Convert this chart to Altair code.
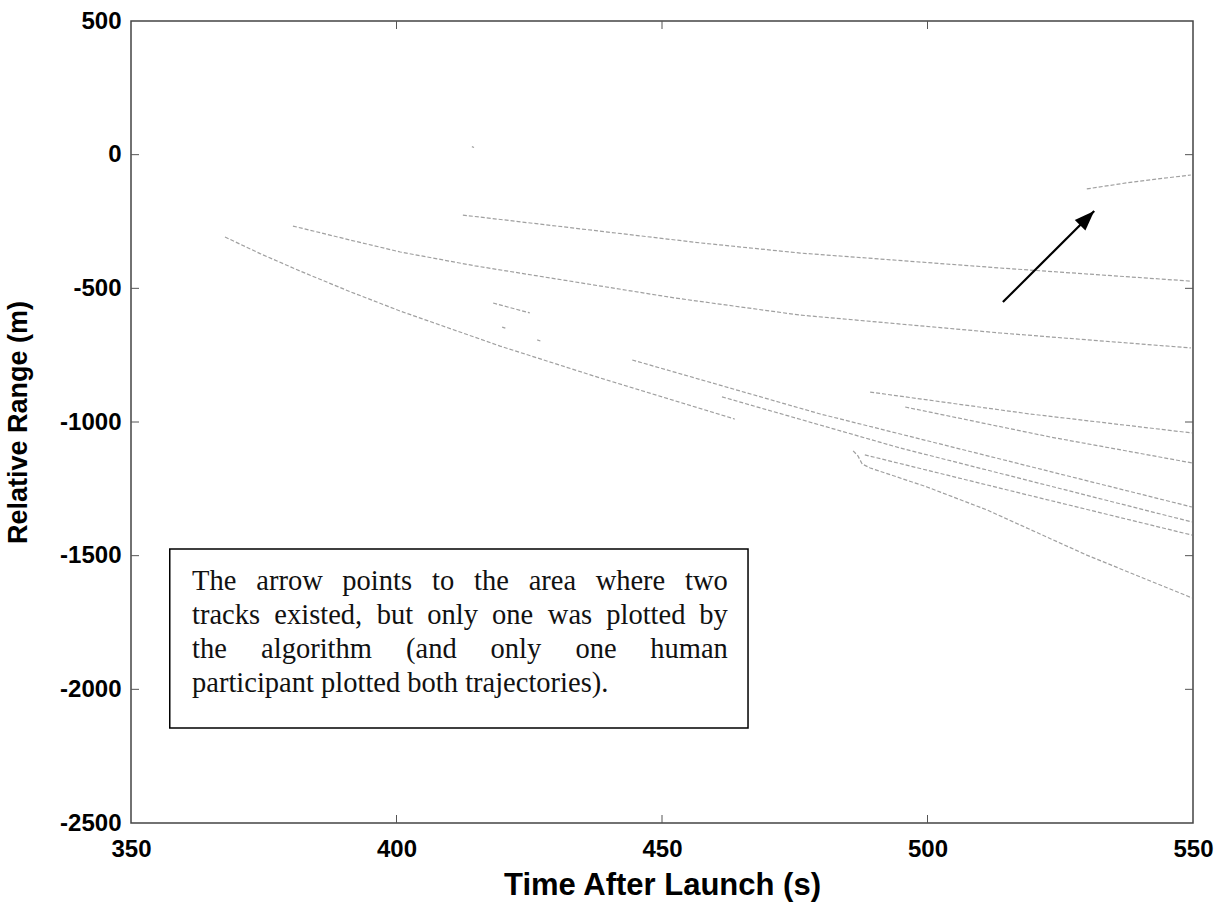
import altair as alt
import pandas as pd

# ---- track data: time after launch (s) and relative range (m) ----
track_a_t = [367.7, 374.3, 381.8, 391.2, 400.7, 419.5, 438.3, 463.7]
track_a_r = [-308, -370, -435, -512, -585, -716, -835, -989]

track_b_t = [380.5, 391.2, 400.7, 414.8, 428.9, 452.4, 476.0, 513.7, 549.6]
track_b_r = [-267, -319, -364, -416, -461, -536, -600, -667, -723]

track_c_t = [412.5, 457.2, 476.0, 513.7, 549.6]
track_c_r = [-226, -330, -368, -424, -473]

track_d_t = [530.0, 538.7, 549.6]
track_d_r = [-128, -102, -76]

frag_1_t = [418.2, 425.1]
frag_1_r = [-555, -592]
frag_2_t = [419.9, 420.5]
frag_2_r = [-645, -649]
frag_3_t = [426.5, 427.1]
frag_3_r = [-693, -697]
frag_4_t = [414.2, 414.6]
frag_4_r = [30, 27]

track_e_t = [489.2, 519.3, 549.8]
track_e_r = [-888, -970, -1041]

track_f_t = [495.8, 523.1, 549.8]
track_f_r = [-944, -1056, -1153]

track_g_t = [444.4, 479.8, 549.8]
track_g_r = [-768, -970, -1318]

track_h_t = [461.3, 494.8, 549.8]
track_h_r = [-906, -1097, -1374]

track_i_t = [488.2, 519.3, 549.8]
track_i_r = [-1123, -1275, -1423]

track_j_t = [486.0, 486.9, 487.7, 489.2, 499.9, 511.2, 530.0, 549.8]
track_j_r = [-1108, -1127, -1157, -1172, -1243, -1329, -1498, -1658]

tracks = {
    "a": (track_a_t, track_a_r), "b": (track_b_t, track_b_r),
    "c": (track_c_t, track_c_r), "d": (track_d_t, track_d_r),
    "f1": (frag_1_t, frag_1_r), "f2": (frag_2_t, frag_2_r),
    "f3": (frag_3_t, frag_3_r), "f4": (frag_4_t, frag_4_r),
    "e": (track_e_t, track_e_r), "f": (track_f_t, track_f_r),
    "g": (track_g_t, track_g_r), "h": (track_h_t, track_h_r),
    "i": (track_i_t, track_i_r), "j": (track_j_t, track_j_r),
}

rows = []
for name, (ts, rs) in tracks.items():
    for k, (t, r) in enumerate(zip(ts, rs)):
        rows.append({"track": name, "seq": k, "t": t, "r": r})
track_df = pd.DataFrame(rows)

# ---- axis ticks ----
x_ticks = [350, 400, 450, 500, 550]
y_ticks = [500, 0, -500, -1000, -1500, -2000, -2500]

# ---- arrow (tail -> tip) ----
arrow_tail = (514.2, -551)
arrow_tip = (531.4, -211)

# ---- annotation box and its justified text (word anchors in data units) ----
box_t = (357.3, 466.2)
box_r = (-1475, -2145)

line_r = [-1628, -1755, -1882, -2009]
left_words = [
    ("The", 361.5, 0), ("arrow", 373.6, 0), ("points", 389.8, 0), ("to", 406.7, 0),
    ("the", 414.6, 0), ("area", 424.9, 0), ("where", 437.5, 0),
    ("tracks", 361.5, 1), ("existed,", 377.0, 1), ("but", 396.3, 1), ("only", 405.8, 1),
    ("one", 418.0, 1), ("was", 428.5, 1), ("plotted", 439.5, 1),
    ("the", 361.5, 2), ("algorithm", 374.5, 2), ("(and", 401.8, 2), ("only", 417.7, 2),
    ("one", 433.7, 2),
    ("participant plotted both trajectories).", 361.5, 3),
]
right_words = [("two", 462.4, 0), ("by", 462.4, 1), ("human", 462.4, 2)]

left_df = pd.DataFrame([{"w": w, "t": x, "r": line_r[i]} for w, x, i in left_words])
right_df = pd.DataFrame([{"w": w, "t": x, "r": line_r[i]} for w, x, i in right_words])

W, H = 1062, 802
xs = alt.Scale(domain=[350, 550], nice=False, zero=False)
ys = alt.Scale(domain=[-2500, 500], nice=False, zero=False)

x_axis = alt.Axis(
    values=x_ticks, format="d", grid=False, domain=False, ticks=False,
    labelFont="Liberation Sans", labelFontWeight="bold", labelFontSize=24,
    labelColor="black", labelPadding=14, labelOverlap=False, labelFlush=False,
    title="Time After Launch (s)", titleFont="Liberation Sans",
    titleFontWeight="bold", titleFontSize=31, titleColor="black",
    titleY=62, titleBaseline="middle",
)
y_axis = alt.Axis(
    values=y_ticks, labelExpr="datum.value + ''", grid=False, domain=False,
    ticks=False, labelFont="Liberation Sans", labelFontWeight="bold",
    labelFontSize=24, labelColor="black", labelPadding=10, labelOverlap=False,
    labelFlush=False, labelBaseline="middle",
    title="Relative Range (m)", titleFont="Liberation Sans",
    titleFontWeight="bold", titleFontSize=27, titleColor="black",
    titleX=-113, titleY=401, titleAngle=270, titleAlign="center",
    titleBaseline="middle",
)

lines = alt.Chart(track_df).mark_line(
    color="#a0a0a0", strokeWidth=1.2, strokeDash=[4, 2]
).encode(
    x=alt.X("t:Q", scale=xs, axis=x_axis),
    y=alt.Y("r:Q", scale=ys, axis=y_axis),
    detail="track:N",
    order="seq:Q",
)

# inward tick marks on all four sides
ytick_df = pd.DataFrame({"r": y_ticks[1:-1]})
xtick_df = pd.DataFrame({"t": x_ticks[1:-1]})
tick_style = dict(color="#555555", strokeWidth=1)
ticks_left = alt.Chart(ytick_df).mark_rule(**tick_style).encode(
    y=alt.Y("r:Q", scale=ys), x=alt.value(0), x2=alt.value(8))
ticks_right = alt.Chart(ytick_df).mark_rule(**tick_style).encode(
    y=alt.Y("r:Q", scale=ys), x=alt.value(W - 8), x2=alt.value(W))
ticks_bottom = alt.Chart(xtick_df).mark_rule(**tick_style).encode(
    x=alt.X("t:Q", scale=xs), y=alt.value(H - 8), y2=alt.value(H))
ticks_top = alt.Chart(xtick_df).mark_rule(**tick_style).encode(
    x=alt.X("t:Q", scale=xs), y=alt.value(0), y2=alt.value(8))

arrow_df = pd.DataFrame([{"t": arrow_tail[0], "r": arrow_tail[1],
                          "t2": arrow_tip[0], "r2": arrow_tip[1]}])
shaft = alt.Chart(arrow_df).mark_rule(color="black", strokeWidth=2.2).encode(
    x=alt.X("t:Q", scale=xs), y=alt.Y("r:Q", scale=ys), x2="t2:Q", y2="r2:Q")
head = alt.Chart(pd.DataFrame([{"t": arrow_tip[0], "r": arrow_tip[1]}])).mark_point(
    shape="M0,0 L-2,-0.75 L-2,0.75 Z", filled=True, color="black", opacity=1,
    size=400, angle=315,
).encode(x=alt.X("t:Q", scale=xs), y=alt.Y("r:Q", scale=ys))

box_df = pd.DataFrame([{"t": box_t[0], "t2": box_t[1], "r": box_r[0], "r2": box_r[1]}])
box = alt.Chart(box_df).mark_rect(fill="white", stroke="black", strokeWidth=1.5).encode(
    x=alt.X("t:Q", scale=xs), x2="t2:Q", y=alt.Y("r:Q", scale=ys), y2="r2:Q")

text_style = dict(font="Liberation Serif", fontSize=28.5, color="#111111",
                  baseline="alphabetic")
words_left = alt.Chart(left_df).mark_text(align="left", **text_style).encode(
    x=alt.X("t:Q", scale=xs), y=alt.Y("r:Q", scale=ys), text="w:N")
words_right = alt.Chart(right_df).mark_text(align="right", **text_style).encode(
    x=alt.X("t:Q", scale=xs), y=alt.Y("r:Q", scale=ys), text="w:N")

chart = alt.layer(
    lines, ticks_left, ticks_right, ticks_bottom, ticks_top,
    shaft, head, box, words_left, words_right,
).properties(
    width=W, height=H,
    autosize=alt.AutoSizeParams(type="none"),
    padding={"left": 131, "top": 21, "right": 1229 - 131 - W, "bottom": 910 - 21 - H},
).configure(background="white").configure_view(
    stroke="#444444", strokeWidth=1.5
)

chart.save("out.html", embed_options={"renderer": "svg", "actions": False})
